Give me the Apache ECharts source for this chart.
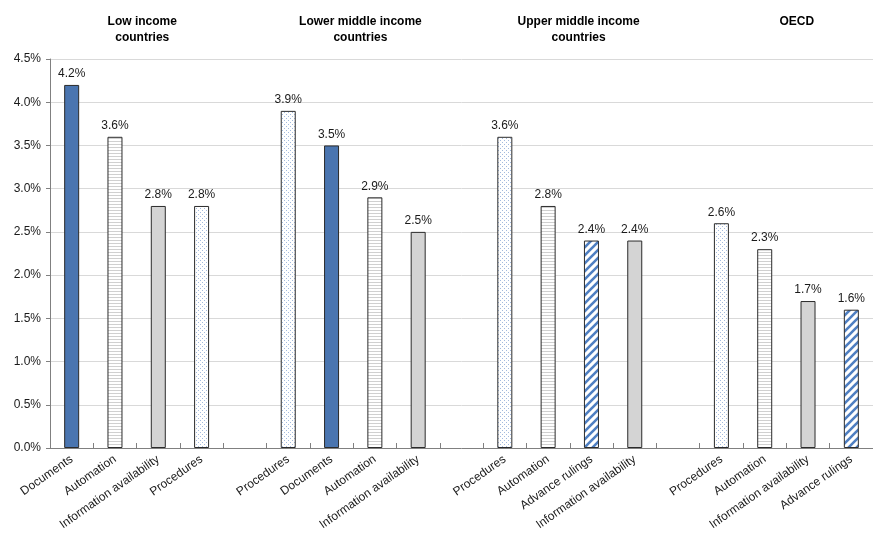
<!DOCTYPE html>
<html>
<head>
<meta charset="utf-8">
<script src="https://cdn.jsdelivr.net/npm/echarts@6/dist/echarts.min.js"></script>
<style>
  html, body { margin: 0; padding: 0; background: #fff; }
  #chart { width: 873px; height: 535px; }
</style>
</head>
<body>
<div id="chart"></div>
<script>
const groupTitles = ["Low income\ncountries", "Lower middle income\ncountries", "Upper middle income\ncountries", "OECD"];
const lowCats = ["Documents", "Automation", "Information availability", "Procedures"];
const lowVals = [4.2, 3.6, 2.8, 2.8];
const lowerMidCats = ["Procedures", "Documents", "Automation", "Information availability"];
const lowerMidVals = [3.9, 3.5, 2.9, 2.5];
const upperMidCats = ["Procedures", "Automation", "Advance rulings", "Information availability"];
const upperMidVals = [3.6, 2.8, 2.4, 2.4];
const oecdCats = ["Procedures", "Automation", "Information availability", "Advance rulings"];
const oecdVals = [2.6, 2.3, 1.7, 1.6];
const yTicks = [0, 0.5, 1, 1.5, 2, 2.5, 3, 3.5, 4, 4.5];

function makePattern(w, h, draw) {
  const c = document.createElement("canvas");
  c.width = w; c.height = h;
  const ctx = c.getContext("2d");
  ctx.fillStyle = "#fff";
  ctx.fillRect(0, 0, w, h);
  draw(ctx);
  return { image: c, repeat: "repeat" };
}

// fills per measure
const fills = {
  "Documents": "#4a75b0",
  "Information availability": "#d4d4d4",
  "Automation": makePattern(4, 3, (ctx) => {
    ctx.fillStyle = "#d0d0d0";
    ctx.fillRect(0, 0, 4, 1);
  }),
  "Procedures": makePattern(4, 4, (ctx) => {
    ctx.fillStyle = "#a3badd";
    ctx.fillRect(0, 0, 1, 1);
    ctx.fillRect(2, 2, 1, 1);
  }),
  "Advance rulings": makePattern(8, 8, (ctx) => {
    ctx.strokeStyle = "#4f7fc2";
    ctx.lineWidth = 2.6;
    ctx.beginPath();
    ctx.moveTo(-2, 10); ctx.lineTo(10, -2);
    ctx.moveTo(-6, 6); ctx.lineTo(6, -6);
    ctx.moveTo(2, 14); ctx.lineTo(14, 2);
    ctx.stroke();
  })
};

const groups = [
  [lowCats, lowVals],
  [lowerMidCats, lowerMidVals],
  [upperMidCats, upperMidVals],
  [oecdCats, oecdVals]
];

// build the category axis with one empty slot between groups
const categories = [];
const barData = [];
const groupCenters = [];
groups.forEach(([cats, vals], gi) => {
  if (gi > 0) { categories.push(""); barData.push("-"); }
  groupCenters.push(categories.length + (cats.length - 1) / 2);
  cats.forEach((c, i) => {
    categories.push(c);
    barData.push({
      value: vals[i],
      itemStyle: { color: fills[c], borderColor: "#2b2b2b", borderWidth: 1 }
    });
  });
});

const chart = echarts.init(document.getElementById("chart"));

const gridLeft = 50;
const slot = 43.63;

const option = {
  animation: false,
  textStyle: { fontFamily: "Liberation Sans, Arial, sans-serif" },
  title: groupTitles.map((t, i) => ({
    text: t,
    left: gridLeft + slot * (groupCenters[i] + 0.5),
    top: 9,
    textAlign: "center",
    textStyle: { fontSize: 12, fontWeight: "bold", color: "#000", lineHeight: 16, fontFamily: "Liberation Sans, Arial, sans-serif" }
  })),
  grid: { left: gridLeft, top: 59, bottom: 87, width: slot * categories.length },
  xAxis: {
    type: "category",
    data: categories,
    axisLine: { lineStyle: { color: "#808080", width: 1 } },
    axisTick: { show: true, inside: true, length: 5, alignWithLabel: false, interval: 0, lineStyle: { color: "#808080" } },
    axisLabel: { interval: 0, rotate: 35, fontSize: 12, color: "#1a1a1a", margin: 10 }
  },
  yAxis: {
    type: "value",
    min: yTicks[0],
    max: yTicks[yTicks.length - 1],
    interval: 0.5,
    axisLine: { show: true, lineStyle: { color: "#808080" } },
    axisTick: { show: true, length: 4, lineStyle: { color: "#808080" } },
    axisLabel: { fontSize: 12, color: "#1a1a1a", margin: 9, formatter: (v) => v.toFixed(1) + "%" },
    splitLine: { lineStyle: { color: "#d9d9d9" } }
  },
  series: [
    {
      type: "bar",
      data: barData,
      barWidth: 15,
      label: {
        show: true,
        position: "top",
        distance: 5,
        fontSize: 12,
        color: "#1a1a1a",
        formatter: (p) => p.value.toFixed(1) + "%"
      }
    }
  ]
};

chart.setOption(option);
</script>
</body>
</html>
